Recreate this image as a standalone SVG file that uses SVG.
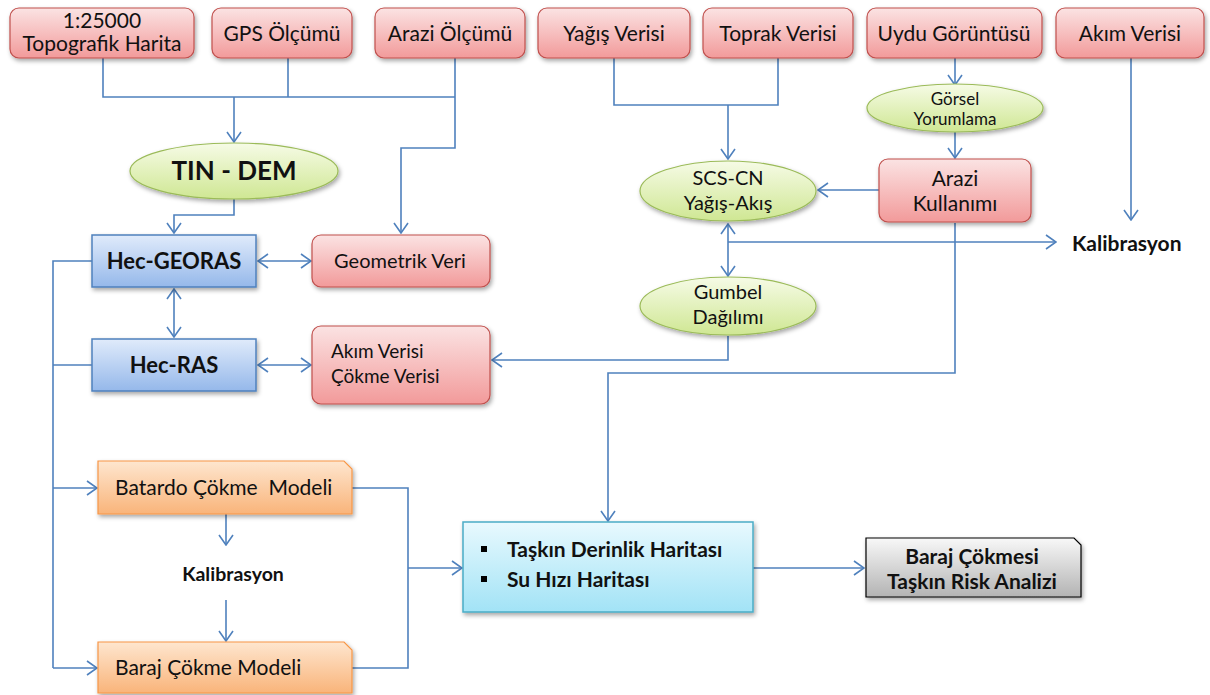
<svg xmlns="http://www.w3.org/2000/svg" width="1210" height="695" viewBox="0 0 1210 695">
<style>
text{font-family:Lato,"Open Sans","Liberation Sans",sans-serif;fill:#111;text-anchor:middle}
.t{font-size:21px}
.m{font-size:20px}
.s{font-size:17px}
.b{font-weight:bold;font-size:22px}
.l{text-anchor:start}
.k{font-weight:bold}
.pk{fill:url(#gPink);stroke:#c0504d;stroke-width:1.2;filter:url(#sh)}
.gr{fill:url(#gGreen);stroke:#9bbb59;stroke-width:1.2;filter:url(#sh)}
.bl{fill:url(#gBlue);stroke:#4f81bd;stroke-width:1.5;filter:url(#sh)}
.or{fill:url(#gOrange);stroke:#f79646;stroke-width:1.2;filter:url(#sh)}
.cy{fill:url(#gCyan);stroke:#4bacc6;stroke-width:1.5;filter:url(#sh)}
.gy{fill:url(#gGray);stroke:#000;stroke-width:1.2;filter:url(#sh)}
.c{fill:none;stroke:#4f81bd;stroke-width:1.6}
.a{marker-end:url(#ah)}
.d{marker-start:url(#ah);marker-end:url(#ah)}
</style>
<defs>
<linearGradient id="gPink" x1="0" y1="0" x2="0" y2="1"><stop offset="0" stop-color="#fbe3e3"/><stop offset="1" stop-color="#f29a9a"/></linearGradient>
<linearGradient id="gGreen" x1="0" y1="0" x2="0" y2="1"><stop offset="0" stop-color="#f6fbe6"/><stop offset="1" stop-color="#cfe793"/></linearGradient>
<linearGradient id="gBlue" x1="0" y1="0" x2="0" y2="1"><stop offset="0" stop-color="#e0ebfb"/><stop offset="1" stop-color="#95b8ea"/></linearGradient>
<linearGradient id="gOrange" x1="0" y1="0" x2="0" y2="1"><stop offset="0" stop-color="#fee6cf"/><stop offset="1" stop-color="#f9b47a"/></linearGradient>
<linearGradient id="gCyan" x1="0" y1="0" x2="0" y2="1"><stop offset="0" stop-color="#e8f9fe"/><stop offset="1" stop-color="#a2e3f6"/></linearGradient>
<linearGradient id="gGray" x1="0" y1="0" x2="0" y2="1"><stop offset="0" stop-color="#f8f8f8"/><stop offset="1" stop-color="#b3b3b3"/></linearGradient>
<filter id="sh" x="-10%" y="-20%" width="125%" height="150%"><feDropShadow dx="1.5" dy="2.5" stdDeviation="2" flood-color="#000" flood-opacity="0.35"/></filter>
<marker id="ah" viewBox="0 0 12 16" refX="11" refY="8" markerWidth="12" markerHeight="16" orient="auto-start-reverse" markerUnits="userSpaceOnUse"><path d="M1,1 L11,8 L1,15" fill="none" stroke="#4f81bd" stroke-width="1.6"/></marker>
</defs>

<g id="connectors">
<path class="c" d="M103,58 V97 H455"/>
<path class="c" d="M288,58 V97"/>
<path class="c a" d="M455,58 V148 H401 V233"/>
<path class="c a" d="M234,97 V142"/>
<path class="c a" d="M234,198 V215 H174 V233"/>
<path class="c d" d="M258,261 H311"/>
<path class="c d" d="M174,289 V337"/>
<path class="c d" d="M258,365 H311"/>
<path class="c" d="M92,261 H53 V668"/>
<path class="c" d="M53,365 H92"/>
<path class="c a" d="M53,488 H97"/>
<path class="c a" d="M53,668 H97"/>
<path class="c a" d="M226,514 V545"/>
<path class="c a" d="M226,600 V641"/>
<path class="c" d="M352,488 H408 V668 H352"/>
<path class="c a" d="M408,568 H462"/>
<path class="c a" d="M753,568 H864"/>
<path class="c" d="M614,58 V105 H778 V58"/>
<path class="c a" d="M728,105 V159"/>
<path class="c a" d="M955,58 V85"/>
<path class="c a" d="M955,132 V158"/>
<path class="c a" d="M879,190 H818"/>
<path class="c a" d="M1131,58 V220"/>
<path class="c d" d="M728,224 V276"/>
<path class="c a" d="M728,242 H1056"/>
<path class="c a" d="M955,223 V373 H608 V521"/>
<path class="c a" d="M728,336 V360 H492"/>
</g>

<g id="n-topo"><rect class="pk" x="10" y="8" width="184" height="50" rx="9"/><text class="t" x="102" y="28">1:25000</text><text class="t" x="102" y="51">Topografik Harita</text></g>
<g id="n-gps"><rect class="pk" x="212" y="8" width="140" height="50" rx="9"/><text class="t" x="282" y="41">GPS Ölçümü</text></g>
<g id="n-arazi-olcum"><rect class="pk" x="375" y="8" width="150" height="50" rx="9"/><text class="t" x="450" y="41">Arazi Ölçümü</text></g>
<g id="n-yagis"><rect class="pk" x="538" y="8" width="152" height="50" rx="9"/><text class="t" x="614" y="41">Yağış Verisi</text></g>
<g id="n-toprak"><rect class="pk" x="703" y="8" width="150" height="50" rx="9"/><text class="t" x="778" y="41">Toprak Verisi</text></g>
<g id="n-uydu"><rect class="pk" x="867" y="8" width="175" height="50" rx="9"/><text class="t" x="954" y="41">Uydu Görüntüsü</text></g>
<g id="n-akim"><rect class="pk" x="1056" y="8" width="148" height="50" rx="9"/><text class="t" x="1130" y="41">Akım Verisi</text></g>

<g id="n-tin"><ellipse class="gr" cx="234" cy="171" rx="104" ry="28"/><text x="234" y="180" style="font-weight:bold;font-size:26px">TIN - DEM</text></g>
<g id="n-gorsel"><ellipse class="gr" cx="955" cy="108" rx="88" ry="24"/><text class="s" x="955" y="105">Görsel</text><text class="s" x="955" y="125">Yorumlama</text></g>
<g id="n-scs"><ellipse class="gr" cx="728" cy="191" rx="88" ry="30"/><text class="m" x="728" y="185">SCS-CN</text><text class="m" x="728" y="210">Yağış-Akış</text></g>
<g id="n-arazi-kul"><rect class="pk" x="879" y="159" width="152" height="63" rx="9"/><text class="t" x="955" y="186">Arazi</text><text class="t" x="955" y="211">Kullanımı</text></g>
<g id="n-gumbel"><ellipse class="gr" cx="728" cy="306" rx="88" ry="29"/><text class="m" x="728" y="299">Gumbel</text><text class="m" x="728" y="324">Dağılımı</text></g>

<g id="n-georas"><rect class="bl" x="92" y="235" width="164" height="52"/><text class="b" x="174" y="269">Hec-GEORAS</text></g>
<g id="n-geometrik"><rect class="pk" x="312" y="235" width="178" height="52" rx="9"/><text class="m" x="400" y="268">Geometrik Veri</text></g>
<g id="n-hecras"><rect class="bl" x="92" y="339" width="164" height="52"/><text class="b" x="174" y="373">Hec-RAS</text></g>
<g id="n-akim-cokme"><rect class="pk" x="312" y="326" width="178" height="78" rx="9"/><text class="l" x="331" y="358" style="font-size:19px">Akım Verisi</text><text class="l" x="331" y="383" style="font-size:19px">Çökme Verisi</text></g>

<g id="n-kalib-r"><text class="t l k" x="1072" y="251">Kalibrasyon</text></g>

<g id="n-batardo"><path class="or" d="M98,461 H344 L352,469 V514 H98 Z"/><text class="t l" x="115" y="495" style="white-space:pre">Batardo Çökme  Modeli</text></g>
<g id="n-kalib-l"><text class="k" x="233" y="581" style="font-size:19.5px">Kalibrasyon</text></g>
<g id="n-baraj"><path class="or" d="M98,642 H344 L352,650 V693 H98 Z"/><text class="t l" x="115" y="675">Baraj Çökme Modeli</text></g>

<g id="n-taskin"><rect class="cy" x="463" y="522" width="290" height="90"/><rect x="481" y="546" width="6" height="6" fill="#000"/><rect x="481" y="576" width="6" height="6" fill="#000"/><text class="t l k" x="507" y="557">Taşkın Derinlik Haritası</text><text class="t l k" x="507" y="587">Su Hızı Haritası</text></g>
<g id="n-risk"><path class="gy" d="M866,538 H1074 L1081,545 V597 H866 Z"/><text class="t k" x="972" y="564">Baraj Çökmesi</text><text class="t k" x="972" y="589">Taşkın Risk Analizi</text></g>
</svg>
